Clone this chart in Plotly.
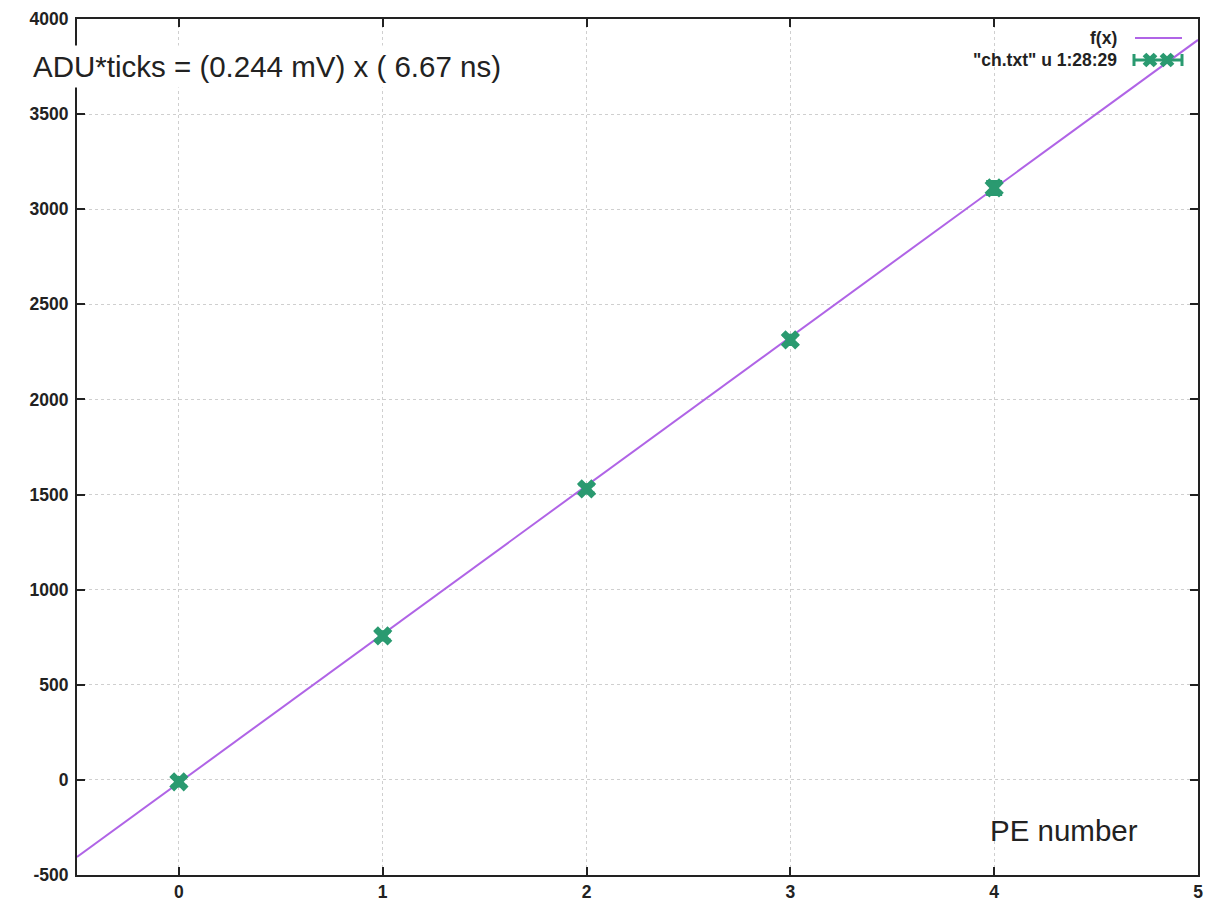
import plotly.graph_objects as go

# ---- data ----
pe_number = [0, 1, 2, 3, 4]
adu_ticks = [-10, 757, 1530, 2313, 3112]
adu_err = [22, 22, 22, 24, 34]

fit_slope = 781.0
fit_intercept = -15.0
fit_x = [-0.5, 5.0]
fit_y = [fit_slope * v + fit_intercept for v in fit_x]

x_ticks = [0, 1, 2, 3, 4, 5]
y_ticks = [-500, 0, 500, 1000, 1500, 2000, 2500, 3000, 3500, 4000]

LINE_COLOR = "#b064e6"
PT_COLOR = "#2a9a70"
FONT = "Liberation Sans, Arial, sans-serif"

# plot area in screen pixels (page has an 8px body offset)
PL, PR, PT, PB = 77, 1198, 19, 875
OFF = 8

fig = go.Figure()

fig.add_trace(go.Scatter(
    x=fit_x, y=fit_y, mode="lines",
    line=dict(color=LINE_COLOR, width=2),
    showlegend=False, hoverinfo="skip",
))

fig.add_trace(go.Scatter(
    x=pe_number, y=adu_ticks, mode="markers",
    marker=dict(symbol="x", size=17, color=PT_COLOR, line=dict(width=0)),
    error_y=dict(type="data", array=adu_err, visible=True,
                 color=PT_COLOR, thickness=3, width=8),
    showlegend=False,
))


def px(xp):
    return (xp - PL) / float(PR - PL)


def py(yp):
    return (PB - yp) / float(PB - PT)


# legend sample for data (on an overlay axis in paper-like units)
fig.add_trace(go.Scatter(
    x=[px(1150), px(1167)], y=[py(60), py(60)], mode="markers",
    xaxis="x2", yaxis="y2",
    marker=dict(symbol="x", size=13, color=PT_COLOR),
    showlegend=False, hoverinfo="skip",
))

shapes = []
shapes.append(dict(type="line", xref="paper", yref="paper",
                   x0=px(1135), x1=px(1182), y0=py(38), y1=py(38),
                   line=dict(color=LINE_COLOR, width=2)))
shapes.append(dict(type="line", xref="paper", yref="paper",
                   x0=px(1134), x1=px(1182), y0=py(60), y1=py(60),
                   line=dict(color=PT_COLOR, width=3)))
for xc in (1134, 1182):
    shapes.append(dict(type="line", xref="paper", yref="paper",
                       x0=px(xc), x1=px(xc), y0=py(54), y1=py(66),
                       line=dict(color=PT_COLOR, width=3)))

annotations = [
    dict(text="ADU*ticks = (0.244 mV) x ( 6.67 ns)", xref="paper", yref="paper",
         x=px(28), y=py(66), xanchor="left", yanchor="middle", showarrow=False,
         font=dict(family=FONT, size=29.5, color="#222222"),
         bgcolor="white", borderpad=4),
    dict(text="PE number", xref="paper", yref="paper",
         x=px(988), y=py(830), xanchor="left", yanchor="middle", showarrow=False,
         font=dict(family=FONT, size=29.5, color="#222222")),
    dict(text="f(x)", xref="paper", yref="paper",
         x=px(1119), y=py(38), xanchor="right", yanchor="middle", showarrow=False,
         font=dict(family=FONT, size=17.5, color="#222222", weight="bold")),
    dict(text="\"ch.txt\" u 1:28:29", xref="paper", yref="paper",
         x=px(1119), y=py(60), xanchor="right", yanchor="middle", showarrow=False,
         font=dict(family=FONT, size=17.5, color="#222222", weight="bold")),
]

axis_common = dict(
    showline=True, linecolor="#222222", linewidth=2, mirror="ticks",
    ticks="inside", ticklen=8, tickwidth=1.5, tickcolor="#222222",
    showgrid=True, gridcolor="#cfcfcf", griddash="dot", gridwidth=1,
    zeroline=False, automargin=False,
    tickfont=dict(family=FONT, size=17.5, color="#222222", weight="bold"),
)

W, H = 1225 - OFF, 904 - OFF
fig.update_layout(
    width=W, height=H,
    margin=dict(l=PL - OFF, r=W - (PR - OFF), t=PT - OFF, b=H - (PB - OFF)),
    paper_bgcolor="white", plot_bgcolor="white",
    xaxis=dict(range=[-0.5, 5], tickvals=x_ticks, ticktext=[str(v) for v in x_ticks],
               ticklabelstandoff=0, **axis_common),
    yaxis=dict(range=[-500, 4000], tickvals=y_ticks, ticktext=[str(v) for v in y_ticks],
               ticklabelstandoff=3, **axis_common),
    xaxis2=dict(range=[0, 1], overlaying="x", visible=False, anchor="y2"),
    yaxis2=dict(range=[0, 1], overlaying="y", visible=False, anchor="x2"),
    shapes=shapes,
    annotations=annotations,
    showlegend=False,
)

fig.write_html("out.html")
